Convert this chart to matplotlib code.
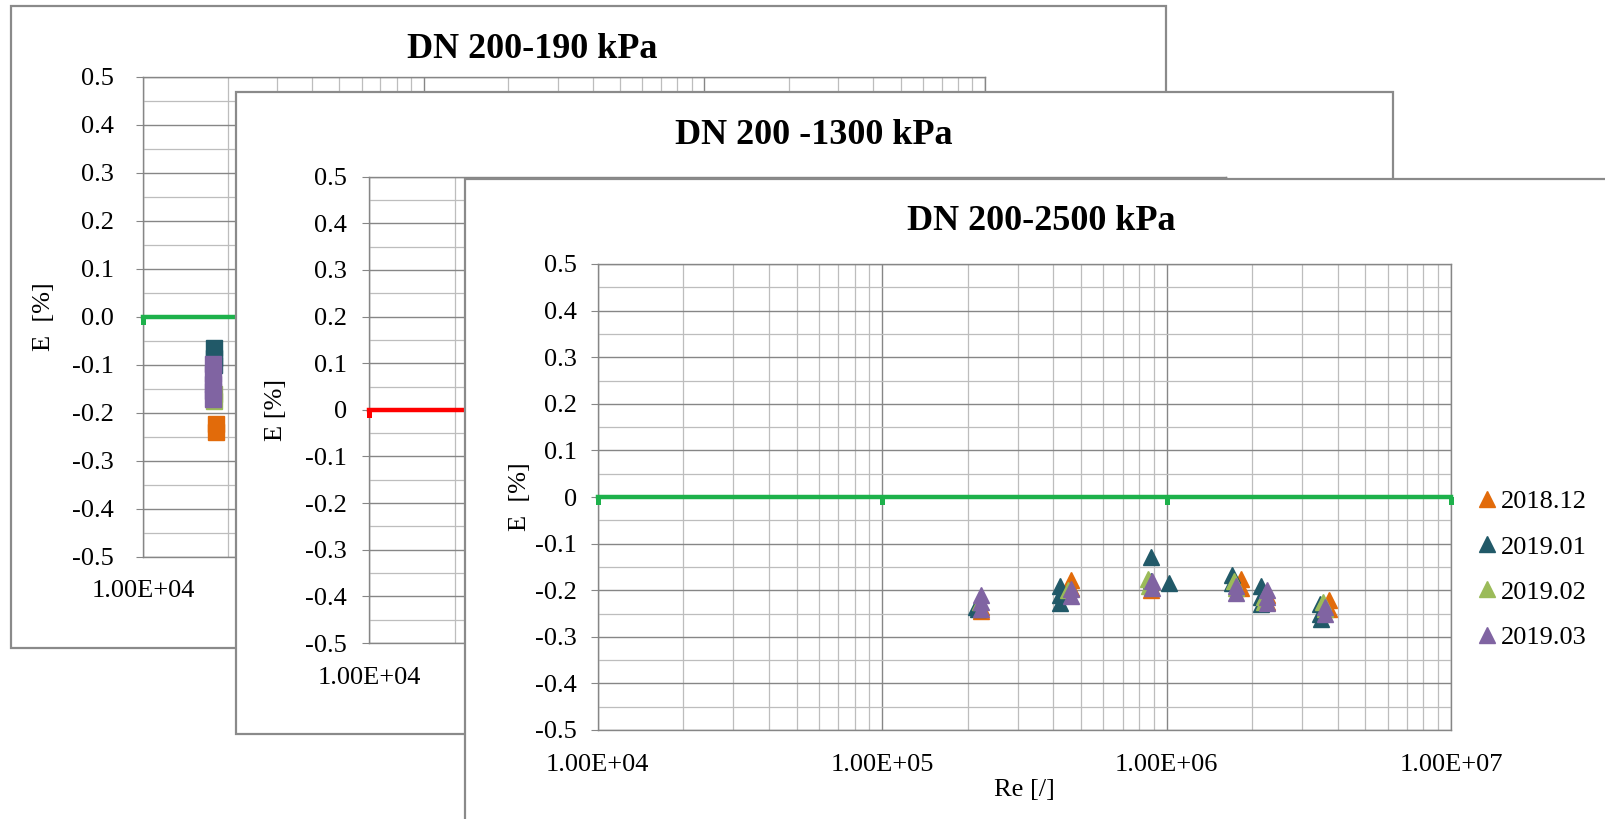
import matplotlib
matplotlib.use("Agg")
import matplotlib.pyplot as plt
from matplotlib.patches import Rectangle
from matplotlib.ticker import FixedLocator, LogLocator, FuncFormatter, MultipleLocator

plt.rcParams["font.family"] = ["Liberation Serif", "DejaVu Serif"]

W, H = 1606, 819

SERIES = ["2018.12", "2019.01", "2019.02", "2019.03"]
COLORS = ["#E26B0A", "#215968", "#9BBB59", "#8064A2"]

# reference line (zero error) for every pressure
REF_RE = [1e4, 1e5, 1e6, 1e7]
REF_E = [0, 0, 0, 0]

# DN 200 - 190 kPa
re_190 = {
    "2018.12": [1.82e4, 1.82e4],
    "2019.01": [1.78e4, 1.78e4, 1.78e4],
    "2019.02": [1.78e4, 1.78e4],
    "2019.03": [1.77e4, 1.77e4, 1.77e4, 1.77e4, 1.77e4],
}
e_190 = {
    "2018.12": [-0.223, -0.240],
    "2019.01": [-0.065, -0.085, -0.100],
    "2019.02": [-0.160, -0.175],
    "2019.03": [-0.098, -0.120, -0.140, -0.155, -0.172],
}

# DN 200 - 2500 kPa
re_2500 = {
    "2018.12": [2.22e5, 2.22e5, 4.6e5, 4.6e5, 8.85e5, 8.85e5, 1.82e6, 1.82e6, 2.25e6, 2.25e6, 3.72e6, 3.72e6],
    "2019.01": [2.14e5, 2.18e5, 4.22e5, 4.22e5, 4.22e5, 8.85e5, 8.8e5, 1.02e6, 1.70e6, 1.70e6,
                2.15e6, 2.15e6, 2.15e6, 3.45e6, 3.45e6, 3.48e6],
    "2019.02": [2.2e5, 4.5e5, 8.6e5, 8.7e5, 1.73e6, 1.75e6, 2.2e6, 2.2e6, 3.55e6, 3.6e6],
    "2019.03": [2.22e5, 2.22e5, 2.22e5, 4.6e5, 4.6e5, 8.9e5, 8.9e5, 1.76e6, 1.76e6,
                2.25e6, 2.25e6, 2.25e6, 3.62e6, 3.62e6],
}
e_2500 = {
    "2018.12": [-0.245, -0.235, -0.178, -0.195, -0.200, -0.190, -0.175, -0.195, -0.210, -0.225, -0.222, -0.240],
    "2019.01": [-0.235, -0.240, -0.190, -0.210, -0.228, -0.128, -0.180, -0.185, -0.168, -0.185,
                -0.190, -0.215, -0.230, -0.230, -0.250, -0.262],
    "2019.02": [-0.225, -0.200, -0.175, -0.190, -0.180, -0.195, -0.215, -0.225, -0.225, -0.240],
    "2019.03": [-0.210, -0.225, -0.240, -0.198, -0.212, -0.180, -0.195, -0.190, -0.205,
                -0.200, -0.215, -0.228, -0.235, -0.250],
}

GRID_MAJOR = "#868686"
GRID_MINOR = "#bdbdbd"
FS = 19

# small notch hanging below the reference line at every decade
NOTCH = [(-0.3, 0), (0.3, 0), (0.3, -1), (-0.3, -1), (-0.3, 0)]


def frame(l, t, r, b, z):
    rect = Rectangle((l / W, 1 - b / H), (r - l) / W, (b - t) / H, transform=fig.transFigure,
                     facecolor="white", edgecolor="#8a8a8a", linewidth=1.6, zorder=z)
    fig.add_artist(rect)


def plot_axes(l, t, r, b, z, zero_fmt, ypad, ylabel, ylabel_x, title, title_xy, ref_color):
    ax = fig.add_axes([l / W, 1 - b / H, (r - l) / W, (b - t) / H])
    ax.set_zorder(z)
    ax.set_xscale("log")
    ax.set_xlim(1e4, 1e7)
    ax.set_ylim(-0.5, 0.5)
    ax.xaxis.set_major_locator(FixedLocator([1e4, 1e5, 1e6, 1e7]))
    ax.xaxis.set_minor_locator(LogLocator(base=10, subs=range(2, 10)))
    ax.xaxis.set_major_formatter(FuncFormatter(lambda v, _: f"{v:.2E}"))
    ax.xaxis.set_minor_formatter(FuncFormatter(lambda v, _: ""))
    ax.yaxis.set_major_locator(MultipleLocator(0.1))
    ax.yaxis.set_minor_locator(MultipleLocator(0.05))
    if zero_fmt:
        ax.yaxis.set_major_formatter(FuncFormatter(lambda v, _: f"{v:.1f}" if abs(v) > 1e-9 else "0.0"))
    else:
        ax.yaxis.set_major_formatter(FuncFormatter(lambda v, _: f"{v:.1f}" if abs(v) > 1e-9 else "0"))
    ax.grid(which="major", color=GRID_MAJOR, linewidth=1.0)
    ax.grid(which="minor", color=GRID_MINOR, linewidth=0.9)
    ax.set_axisbelow(True)
    for s in ax.spines.values():
        s.set_color(GRID_MAJOR)
        s.set_linewidth(1.0)
    ax.tick_params(axis="x", which="both", length=0, pad=17, labelsize=FS)
    ax.tick_params(axis="y", which="major", length=5, color=GRID_MAJOR, pad=ypad, labelsize=FS)
    ax.tick_params(axis="y", which="minor", length=0)
    ax.plot(REF_RE, REF_E, color=ref_color, linewidth=3.2, marker=NOTCH, markersize=12,
            markeredgewidth=0, clip_on=False, zorder=3)
    fig.text(ylabel_x / W, 1 - ((t + b) / 2) / H, ylabel, rotation=90, ha="center", va="center",
             fontsize=FS, zorder=z)
    fig.text(title_xy[0] / W, 1 - title_xy[1] / H, title, ha="center", va="center",
             fontsize=26, fontweight="bold", zorder=z)
    return ax


fig = plt.figure(figsize=(W / 100, H / 100), dpi=100)

# DN 200-190 kPa
frame(11, 6, 1166, 648, 1)
ax1 = plot_axes(143.3, 76.7, 985, 556.7, 2, True, 16, "E  [%]", 44, "DN 200-190 kPa", (532, 49), "#1DB14B")
for name, color in zip(SERIES, COLORS):
    ax1.plot(re_190[name], e_190[name], linestyle="", marker="s", markersize=11, color=color, zorder=4)

# DN 200 -1300 kPa
frame(235.7, 91.7, 1393, 734, 3)
ax2 = plot_axes(369.3, 176.7, 1225.7, 643, 4, False, 11, "E [%]", 276, "DN 200 -1300 kPa", (814, 136), "#FF0000")

# DN 200-2500 kPa
frame(465, 179, 1640, 850, 5)
ax3 = plot_axes(597.7, 264, 1451, 730, 6, False, 10, "E  [%]", 520, "DN 200-2500 kPa", (1041, 222), "#1DB14B")
handles = []
for name, color in zip(SERIES, COLORS):
    h, = ax3.plot(re_2500[name], e_2500[name], linestyle="", marker="^", markersize=11,
                  color=color, label=name, zorder=4)
    handles.append(h)
fig.text(1024 / W, 1 - 790 / H, "Re [/]", ha="center", va="center", fontsize=FS, zorder=6)

leg = ax3.legend(handles=handles, loc="upper left", bbox_to_anchor=(1479 / W, 1 - 490 / H),
                 bbox_transform=fig.transFigure, frameon=False, fontsize=FS, handlelength=0.6,
                 handletextpad=0.22, labelspacing=0.82, borderpad=0, borderaxespad=0, markerscale=1.0)

fig.savefig("out.png", dpi=100)
